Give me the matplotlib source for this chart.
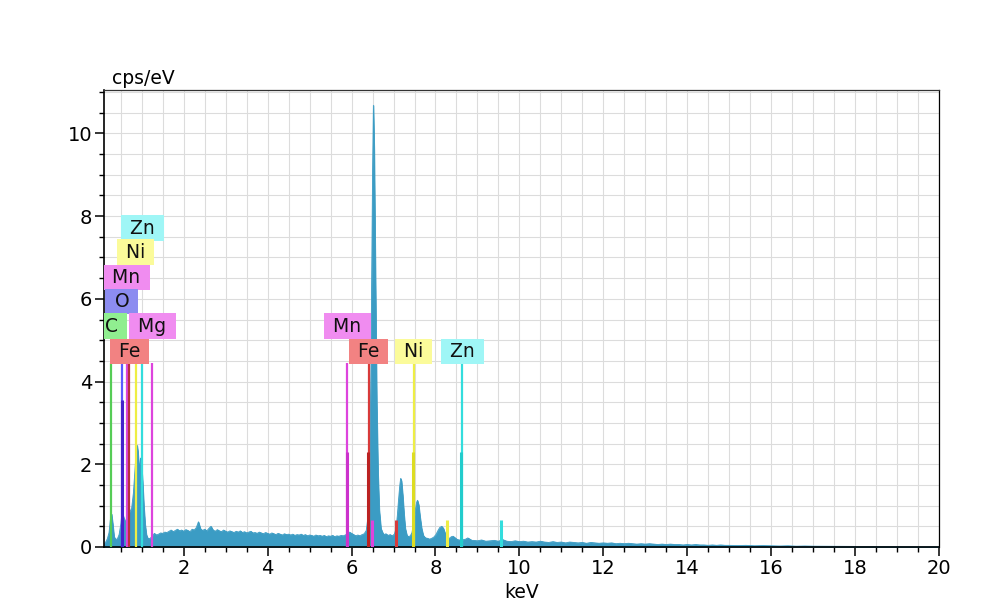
import matplotlib
matplotlib.use("Agg")
import matplotlib.pyplot as plt
from matplotlib.ticker import MultipleLocator

# ---------------- data ----------------
# spectrum: low-energy region (keV, cps/eV)
low_E = [0.10, 0.14, 0.18, 0.22, 0.25, 0.28, 0.31, 0.34, 0.38, 0.42, 0.46, 0.50,
         0.53, 0.56, 0.60, 0.64, 0.68, 0.72, 0.76, 0.80, 0.83, 0.86, 0.89, 0.91,
         0.93, 0.95, 0.97, 0.99, 1.02, 1.05, 1.08, 1.11, 1.14, 1.17]
low_cps = [0.05, 0.12, 0.20, 0.35, 0.65, 0.80, 0.55, 0.25, 0.18, 0.20, 0.30, 0.55,
           0.85, 0.75, 0.60, 0.70, 0.80, 0.85, 0.95, 1.30, 1.75, 2.20, 2.46, 2.30,
           1.95, 2.00, 2.15, 2.05, 1.60, 1.00, 0.55, 0.30, 0.22, 0.20]

# background region 1.20 - 6.30 keV, step 0.05
mid_E = [round(1.20 + 0.05 * i, 2) for i in range(103)]
mid_cps = [0.21, 0.26, 0.33, 0.29, 0.31, 0.34, 0.33, 0.36, 0.35, 0.38, 0.41, 0.37,
           0.40, 0.43, 0.39, 0.41, 0.38, 0.42, 0.40, 0.37, 0.43, 0.41, 0.47, 0.61,
           0.44, 0.40, 0.43, 0.39, 0.45, 0.50, 0.41, 0.38, 0.42, 0.39, 0.37, 0.41,
           0.38, 0.36, 0.39, 0.37, 0.35, 0.38, 0.36, 0.39, 0.35, 0.37, 0.34, 0.36,
           0.38, 0.34, 0.35, 0.33, 0.36, 0.34, 0.32, 0.35, 0.33, 0.31, 0.34, 0.32,
           0.30, 0.33, 0.31, 0.29, 0.32, 0.30, 0.31, 0.29, 0.31, 0.28, 0.30, 0.29,
           0.31, 0.28, 0.30, 0.27, 0.29, 0.28, 0.26, 0.29, 0.27, 0.28, 0.26, 0.28,
           0.25, 0.27, 0.26, 0.28, 0.25, 0.27, 0.26, 0.28, 0.27, 0.29, 0.32, 0.36,
           0.33, 0.30, 0.27, 0.29, 0.27, 0.30, 0.32]

# K-line region 6.35 - 8.87 keV
k_E = [6.35, 6.40, 6.42, 6.44, 6.46, 6.48, 6.50, 6.52, 6.54, 6.56, 6.58, 6.60,
       6.63, 6.66, 6.70, 6.74, 6.77, 6.82, 6.87, 6.92, 6.97, 7.02, 7.06, 7.09,
       7.12, 7.15, 7.17, 7.19, 7.22, 7.25, 7.28, 7.32, 7.36, 7.40, 7.44, 7.48,
       7.52, 7.55, 7.57, 7.60, 7.63, 7.67, 7.71, 7.76, 7.81, 7.86, 7.91, 7.96,
       8.01, 8.06, 8.10, 8.15, 8.19, 8.23, 8.28, 8.33, 8.38, 8.42, 8.47, 8.52,
       8.57, 8.62, 8.67, 8.72, 8.77, 8.82, 8.87]
k_cps = [0.40, 0.80, 1.40, 2.50, 4.20, 6.50, 9.00, 10.68, 9.60, 7.50, 5.50, 3.50,
         1.80, 0.90, 0.45, 0.35, 0.30, 0.32, 0.28, 0.30, 0.27, 0.31, 0.45, 0.75,
         1.15, 1.50, 1.66, 1.60, 1.25, 0.80, 0.45, 0.28, 0.25, 0.27, 0.35, 0.60,
         0.90, 1.08, 1.13, 1.02, 0.75, 0.45, 0.28, 0.22, 0.21, 0.19, 0.21, 0.24,
         0.30, 0.40, 0.47, 0.50, 0.45, 0.33, 0.22, 0.21, 0.25, 0.26, 0.22, 0.18,
         0.17, 0.16, 0.18, 0.19, 0.22, 0.19, 0.16]

# high-energy tail
high_E = [8.9, 9.0, 9.1, 9.2, 9.3, 9.4, 9.5, 9.6, 9.7, 9.8, 9.9, 10.0, 10.1, 10.2,
          10.3, 10.4, 10.5, 10.6, 10.7, 10.8, 10.9, 11.0, 11.1, 11.2, 11.3, 11.4,
          11.5, 11.6, 11.7, 11.8, 11.9, 12.0, 12.1, 12.2, 12.3, 12.4, 12.5, 12.6,
          12.7, 12.8, 12.9, 13.0, 13.1, 13.2, 13.3, 13.4, 13.5, 13.6, 13.7, 13.8,
          13.9, 14.0, 14.1, 14.2, 14.3, 14.4, 14.5, 14.6, 14.7, 14.8, 14.9, 15.0,
          15.2, 15.4, 15.6, 15.8, 16.0, 16.2, 16.4, 16.6, 16.8, 17.0, 17.3, 17.6,
          18.0, 18.5, 19.0, 19.5, 20.0]
high_cps = [0.16, 0.15, 0.17, 0.14, 0.15, 0.16, 0.14, 0.18, 0.14, 0.13, 0.15, 0.13,
            0.14, 0.12, 0.13, 0.12, 0.14, 0.12, 0.11, 0.13, 0.11, 0.12, 0.10, 0.12,
            0.11, 0.10, 0.11, 0.09, 0.11, 0.10, 0.09, 0.10, 0.09, 0.10, 0.08, 0.09,
            0.08, 0.09, 0.08, 0.07, 0.08, 0.07, 0.08, 0.07, 0.06, 0.07, 0.06, 0.07,
            0.06, 0.06, 0.05, 0.06, 0.05, 0.06, 0.05, 0.05, 0.04, 0.05, 0.04, 0.05,
            0.04, 0.04, 0.035, 0.04, 0.03, 0.035, 0.03, 0.025, 0.03, 0.02, 0.025,
            0.02, 0.018, 0.015, 0.012, 0.01, 0.008, 0.006, 0.005]

energy = low_E + mid_E + k_E + high_E
cps = low_cps + mid_cps + k_cps + high_cps

# element marker lines (keV, height cps/eV, colour)
line_E = [0.277, 0.525, 0.637, 0.705, 0.851, 1.012, 1.254,
          5.899, 6.404, 7.478, 8.639]
line_h = [4.45] * 11
line_col = ['#55cc55', '#5a5aff', '#dd44dd', '#b8323c', '#eeee44', '#33dddd', '#dd44dd',
            '#dd44dd', '#d83a3a', '#eeee44', '#33dddd']

# secondary (alpha2 / beta) lines
sec_E = [0.525, 5.888, 6.391, 7.461, 8.616, 6.490, 7.058, 8.265, 9.572]
sec_h = [3.55, 2.30, 2.30, 2.30, 2.30, 0.65, 0.65, 0.65, 0.65]
sec_col = ['#4422cc', '#cc33cc', '#bb2222', '#dddd22', '#22cccc',
           '#dd44dd', '#d83a3a', '#eeee44', '#33dddd']

# labels
lab_text = ['Zn', 'Ni', 'Mn', 'O', 'C', 'Mg', 'Fe', 'Mn', 'Fe', 'Ni', 'Zn']
lab_x = [1.012, 0.851, 0.637, 0.525, 0.277, 1.254, 0.705, 5.899, 6.404, 7.478, 8.639]
lab_y = [7.71, 7.13, 6.52, 5.94, 5.34, 5.34, 4.73, 5.34, 4.73, 4.73, 4.73]
lab_col = ['#9ff6f6', '#fbfb9a', '#f08cf0', '#8c8cf0', '#90ee90', '#f08cf0', '#f28282',
           '#f08cf0', '#f28282', '#fbfb9a', '#9ff6f6']

# ---------------- plot ----------------
fig = plt.figure(figsize=(10.02, 6.12), dpi=100)
ax = fig.add_axes([104 / 1002, 65 / 612, 835 / 1002, 457 / 612])

ax.fill_between(energy, 0, cps, color='#3b9cc4', lw=0.6, zorder=2)
ax.plot(energy, cps, color='#3b9cc4', lw=0.6, zorder=2)

ax.vlines(line_E, 0, line_h, colors=line_col, lw=1.6, zorder=3)
ax.vlines(sec_E, 0, sec_h, colors=sec_col, lw=2.2, zorder=3)

for t, x, y, c in zip(lab_text, lab_x, lab_y, lab_col):
    ax.text(x, y, ' ' + t + ' ', ha='center', va='center', fontsize=13.5,
            color='#111111', zorder=4, clip_on=True,
            bbox=dict(boxstyle='square,pad=0.17', fc=c, ec='none'))

ax.set_xlim(0.1, 20)
ax.set_ylim(0, 11.05)
ax.xaxis.set_major_locator(MultipleLocator(2))
ax.xaxis.set_minor_locator(MultipleLocator(0.5))
ax.yaxis.set_major_locator(MultipleLocator(2))
ax.yaxis.set_minor_locator(MultipleLocator(0.5))
ax.grid(which='both', color='#dcdcdc', lw=0.8)
ax.set_axisbelow(True)

ax.tick_params(which='major', length=6.5, width=1.1, labelsize=14, pad=2)
ax.tick_params(which='minor', length=3.5, width=1.0)
for s in ax.spines.values():
    s.set_linewidth(1.2)
    s.set_color('black')
ax.spines['top'].set_linewidth(0.9)
ax.spines['top'].set_color('#333333')
ax.spines['right'].set_linewidth(0.9)

ax.set_xlabel('keV', fontsize=13.5, labelpad=4)
ax.text(0.0096, 1.004, 'cps/eV', transform=ax.transAxes, ha='left', va='bottom',
        fontsize=13.5)

fig.savefig('out.png', dpi=100)
